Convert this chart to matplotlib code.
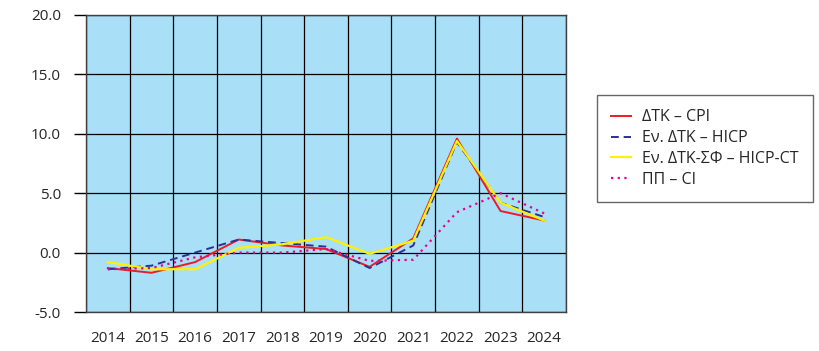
import matplotlib
matplotlib.use("Agg")
import matplotlib.pyplot as plt
import numpy as np

years = ["2014", "2015", "2016", "2017", "2018", "2019", "2020", "2021", "2022", "2023", "2024"]
cpi = [-1.3, -1.7, -0.8, 1.1, 0.6, 0.3, -1.2, 1.2, 9.6, 3.5, 2.7]
hicp = [-1.4, -1.1, 0.0, 1.1, 0.8, 0.5, -1.3, 0.6, 9.3, 4.2, 3.0]
hicp_ct = [-0.8, -1.4, -1.4, 0.4, 0.7, 1.3, -0.1, 1.0, 9.4, 4.2, 2.7]
ci = [-1.4, -1.3, -0.4, 0.0, 0.0, 0.3, -0.7, -0.6, 3.4, 5.0, 3.3]
labels = ["ΔΤΚ – CPI", "Εν. ΔΤΚ – HICP", "Εν. ΔΤΚ-ΣΦ – HICP-CT", "ΠΠ – CI"]

plt.rcParams['font.family'] = ['Open Sans', 'DejaVu Sans']
fig = plt.figure(figsize=(8.2, 3.51), dpi=100)
ax = fig.add_axes([86/820, 1-312/351, 480/820, (312-15)/351])
ax.set_facecolor('#A9DFF7')

x = np.arange(len(years))
ax.plot(x, cpi, color='#ED1C24', lw=1.4, label=labels[0])
ax.plot(x, hicp, color='#2E3192', lw=1.4, ls=(0, (4, 2.5)), label=labels[1])
ax.plot(x, hicp_ct, color='#FFF200', lw=1.6, label=labels[2])
ax.plot(x, ci, color='#EC008C', lw=1.6, ls=(0, (1, 2)), label=labels[3])

ax.set_xlim(-0.5, len(years) - 0.5)
ax.set_ylim(-5, 20)
ax.set_yticks(np.arange(-5, 21, 5))
ax.set_yticklabels([f"{v:.1f}" for v in np.arange(-5, 21, 5)], fontsize=11, color='#262626')
ax.set_xticks(x)
ax.set_xticklabels(years, fontsize=11, color='#262626')
ax.set_xticks(np.arange(-0.5, len(years), 1), minor=True)
ax.tick_params(axis='x', which='both', length=0, pad=14)
ax.tick_params(axis='y', length=9, width=1, pad=9)
ax.grid(axis='y', which='major', color='black', lw=0.9)
ax.grid(axis='x', which='minor', color='black', lw=0.9)
ax.set_axisbelow(True)
for s in ax.spines.values():
    s.set_color('#404040')
    s.set_linewidth(1)

leg = ax.legend(loc='upper left', bbox_to_anchor=(597/820, 1-95/351), bbox_transform=fig.transFigure,
                borderaxespad=0, fontsize=11.5, frameon=True, fancybox=False, edgecolor='#404040',
                handlelength=1.2, handletextpad=0.7, borderpad=0.9, labelspacing=0.3)
leg.get_frame().set_linewidth(1)
for t in leg.get_texts():
    t.set_color('#262626')

fig.savefig("out.png", dpi=100)
